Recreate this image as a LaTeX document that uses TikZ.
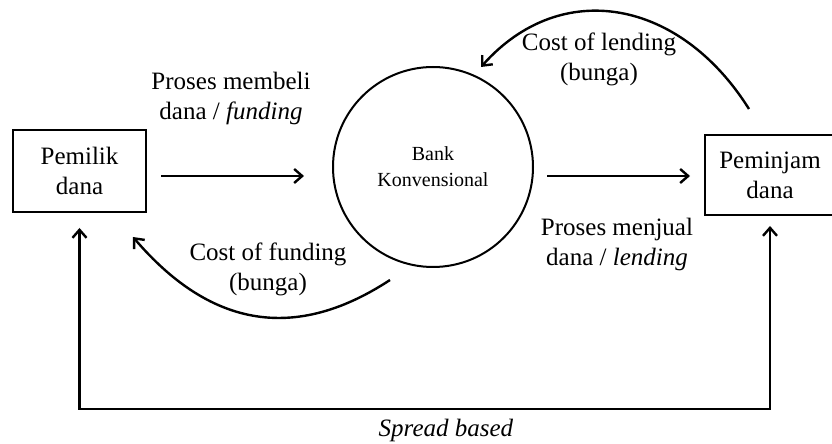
\documentclass[tikz,border=0pt]{standalone}
\usepackage{fontspec}
\setmainfont{Liberation Serif}
\usetikzlibrary{arrows.meta}

\begin{document}
\begin{tikzpicture}[x=0.5pt,y=-0.5pt,>={Straight Barb[length=4pt,width=7pt]},every node/.style={font=\fontsize{12.5}{15}\selectfont},party/.style={draw,line width=1pt,inner sep=0pt,align=center},bankc/.style={draw,circle,line width=1pt,minimum size=100pt,inner sep=0pt,align=center,font=\fontsize{10}{13}\selectfont},lbl/.style={align=center},flow/.style={line width=1.2pt},]
\useasboundingbox (0,0) rectangle (832,444);
\node[party,minimum width=66.5pt,minimum height=41pt] (pemilik) at (79.5,171) {Pemilik\\dana};
\node[party,minimum width=65pt,minimum height=40pt] (peminjam) at (770,175) {Peminjam\\dana};
\node[bankc] (bank) at (433,167) {Bank\\Konvensional};
\node[lbl] (beli) at (231,98) {Proses membeli\\dana / \textit{funding}};
\node[lbl] (jual) at (617,244) {Proses menjual\\dana / \textit{lending}};
\node[lbl] (costl) at (599,59) {Cost of lending\\(bunga)};
\node[lbl] (costf) at (268,269) {Cost of funding\\(bunga)};
\node (spread) at (446,430) {\textit{Spread based}};
\coordinate (base) at (80,409);
\draw[flow,->,shorten <=7pt,shorten >=14pt] ([yshift=-2.5pt]pemilik.east) -- ([yshift=-2.5pt]pemilik.east -| bank.west);
\draw[flow,->,shorten <=6.5pt,shorten >=7pt] ([yshift=-4.5pt]bank.east) -- ([yshift=-4.5pt]bank.east -| peminjam.west);
\draw[flow,->] ([shift={(-21,-25)}]peminjam.north) .. controls +(-69,-110) and +(80,-90) .. ([shift={(48,1)}]bank.north);
\draw[flow,->] ([shift={(-43,12)}]bank.south) .. controls +(-109,71.5) and +(65,76) .. ([shift={(-14,24)}]pemilik.south east);
\draw[flow,<->] ([yshift=-7.5pt]pemilik.south) -- (pemilik.south |- base) -- (peminjam.south |- base) -- ([yshift=-5pt]peminjam.south);
\end{tikzpicture}
\end{document}
